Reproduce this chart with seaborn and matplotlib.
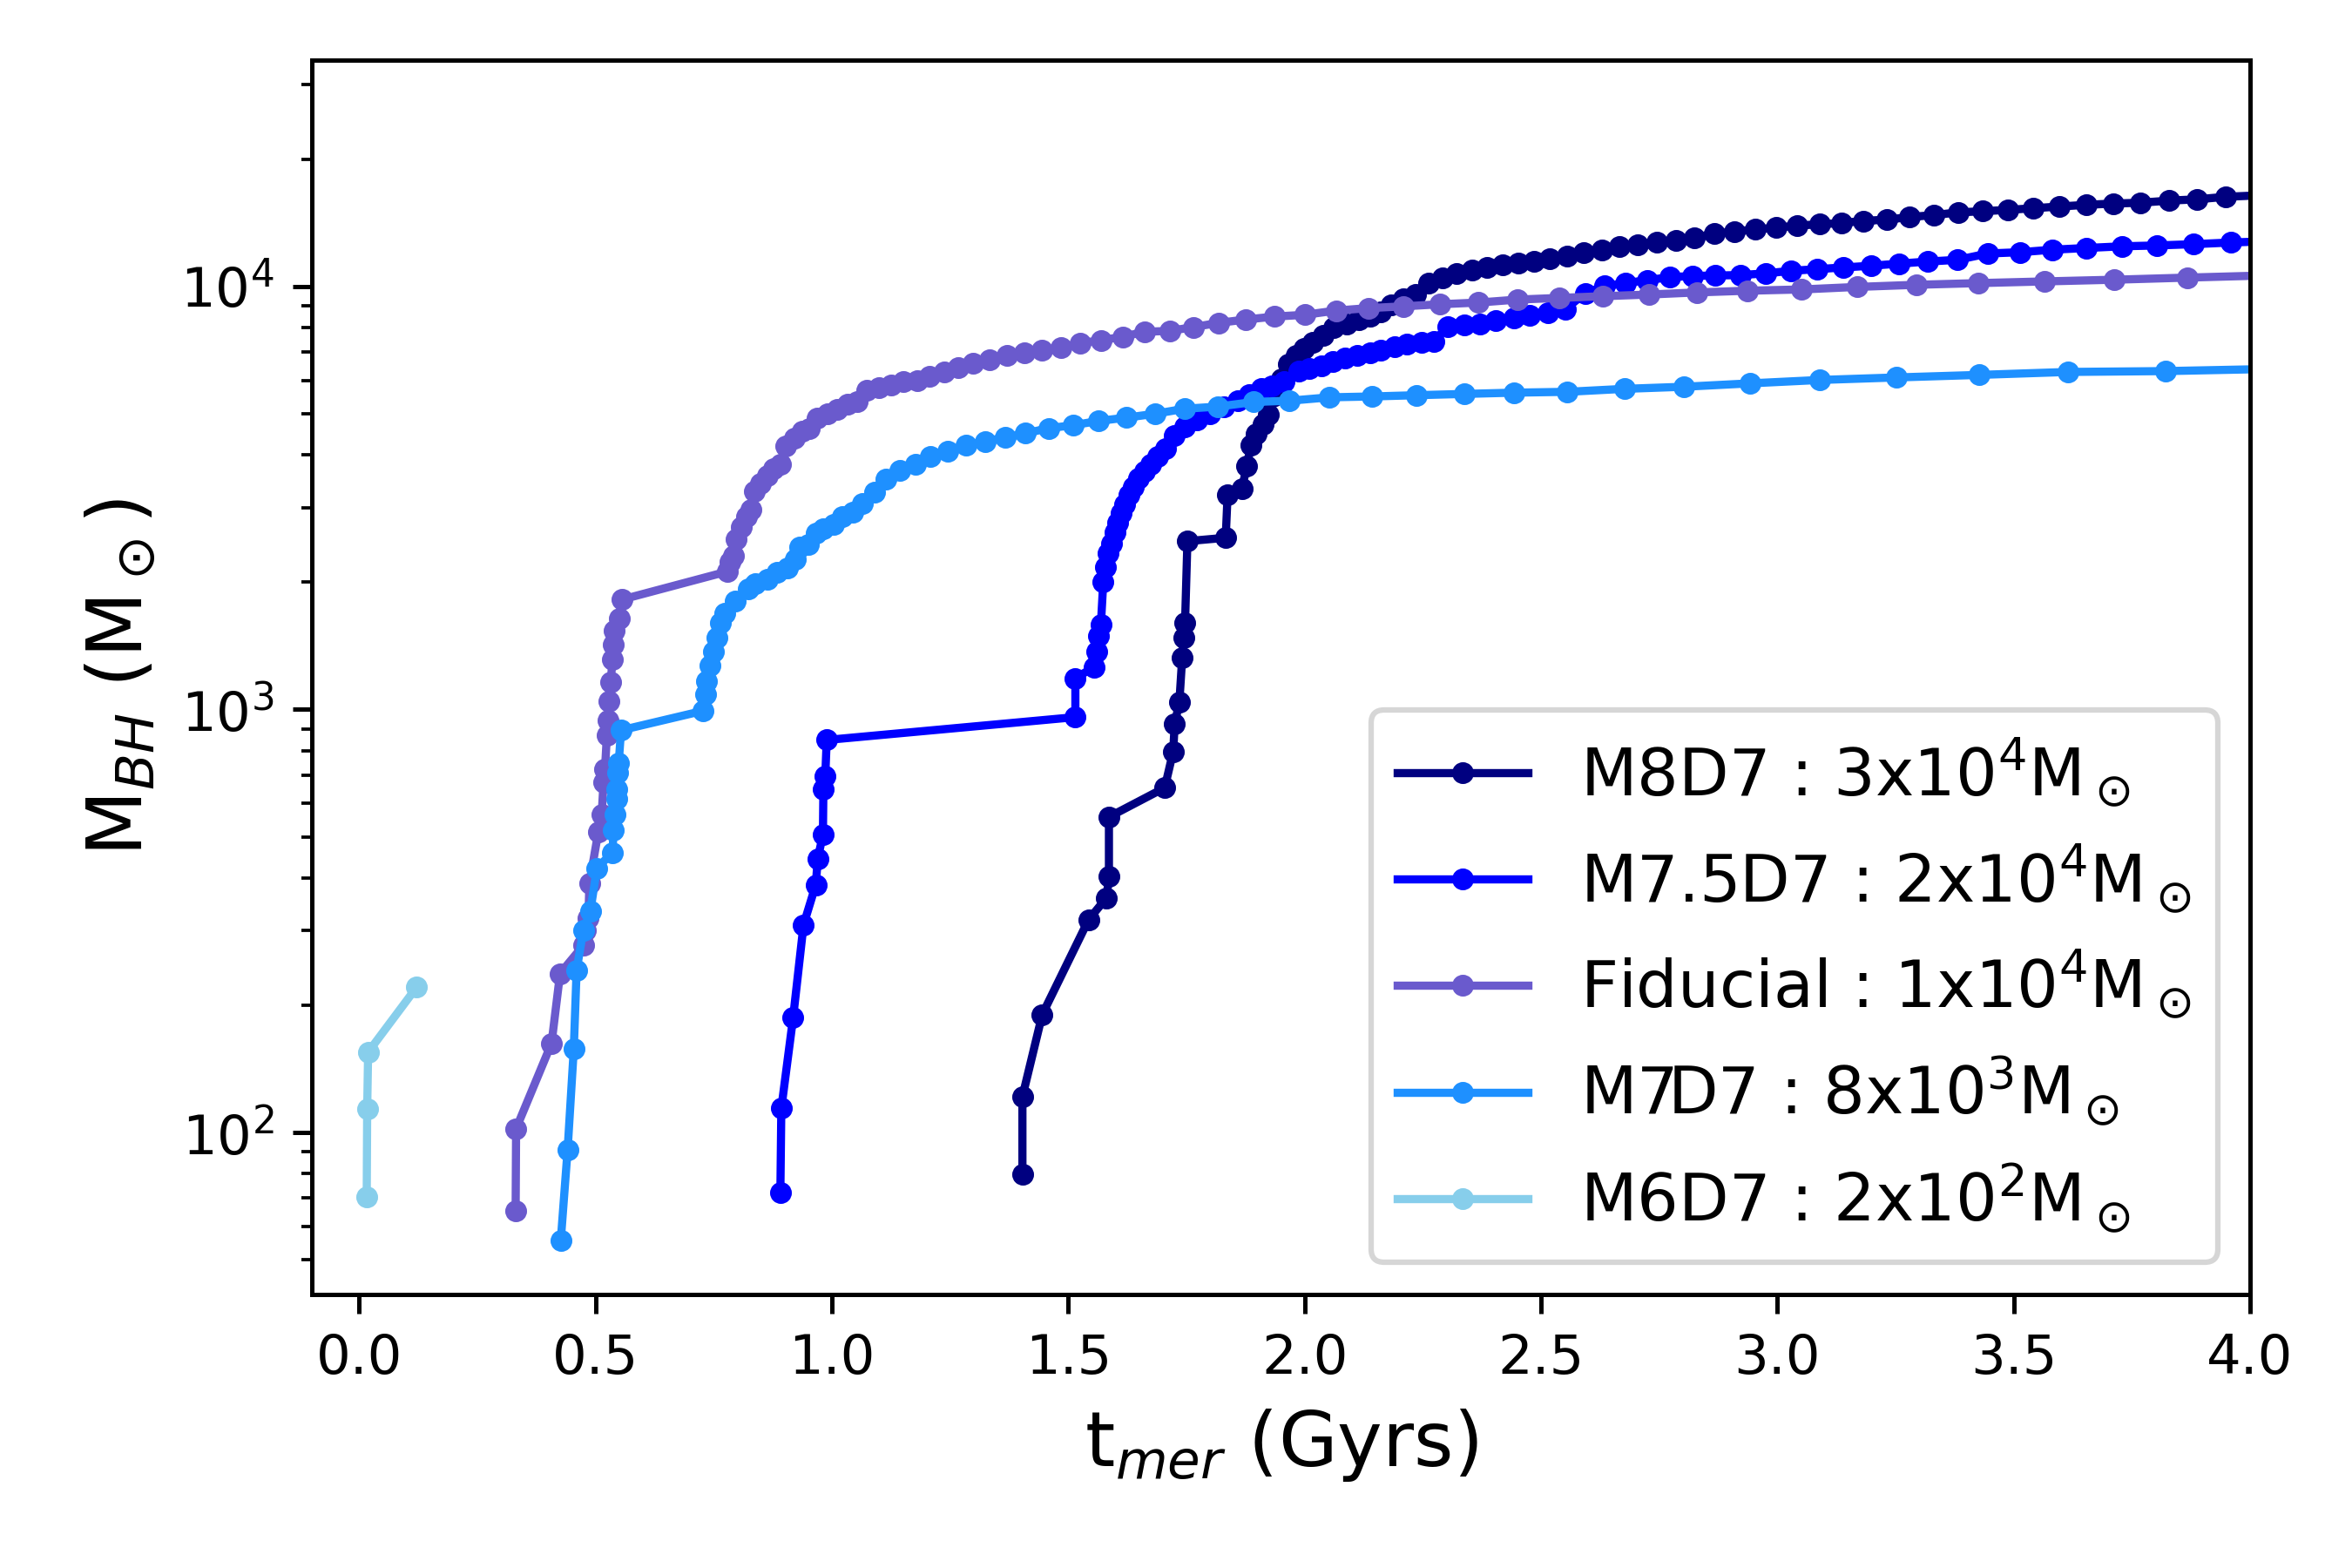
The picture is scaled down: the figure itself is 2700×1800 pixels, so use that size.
import numpy as np
import matplotlib
matplotlib.use("Agg")
import matplotlib.pyplot as plt
import seaborn as sns

# ==========================================
# Data (t in Gyr, log10 of M_BH in Msun)
# ==========================================
m8_t = [1.403, 1.403, 1.445, 1.543, 1.581, 1.586, 1.586, 1.704, 1.722, 1.725,
        1.735, 1.741, 1.744, 1.747, 1.752, 1.833, 1.837, 1.867, 1.878,
        1.886, 1.898, 1.912, 1.923, 1.933, 1.951,
        1.965, 1.983, 1.998, 2.017, 2.040, 2.062, 2.089, 2.115, 2.138, 2.160,
        2.183, 2.209, 2.235, 2.262, 2.292, 2.322, 2.354, 2.386, 2.418, 2.452,
        2.486, 2.519, 2.555, 2.591, 2.628, 2.666, 2.704, 2.745, 2.785, 2.824,
        2.866, 2.909, 2.953, 2.997, 3.041, 3.089, 3.135, 3.181, 3.231, 3.279,
        3.331, 3.382, 3.434, 3.487, 3.541, 3.596, 3.653, 3.710, 3.767, 3.828,
        3.887, 3.948, 4.030]
m8_logm = [1.901, 2.085, 2.279, 2.503, 2.555, 2.605, 2.746, 2.815, 2.901, 2.965,
           3.018, 3.123, 3.170, 3.205, 3.398, 3.406, 3.508, 3.521, 3.576,
           3.624, 3.651, 3.675, 3.697, 3.740, 3.782,
           3.816, 3.837, 3.854, 3.868, 3.885, 3.902, 3.912, 3.922, 3.929, 3.940,
           3.957, 3.971, 3.981, 4.008, 4.020, 4.031, 4.039, 4.046, 4.051, 4.056,
           4.060, 4.065, 4.071, 4.080, 4.087, 4.094, 4.098, 4.104, 4.109, 4.115,
           4.125, 4.130, 4.135, 4.139, 4.144, 4.147, 4.150, 4.155, 4.158, 4.164,
           4.169, 4.175, 4.178, 4.181, 4.185, 4.189, 4.193, 4.196, 4.198, 4.203,
           4.206, 4.212, 4.216]

m75_t = [0.891, 0.893, 0.918, 0.940, 0.966, 0.970, 0.981, 0.982, 0.986, 0.989,
         1.515, 1.515, 1.554, 1.560, 1.564, 1.569, 1.574, 1.578, 1.585, 1.591,
         1.598, 1.604, 1.612, 1.620, 1.629, 1.638, 1.649, 1.661, 1.675, 1.690,
         1.706,
         1.724, 1.746, 1.773, 1.799, 1.829, 1.859, 1.882, 1.908, 1.931, 1.957,
         1.987, 2.010, 2.036, 2.059, 2.085, 2.111, 2.138, 2.160, 2.190, 2.217,
         2.247, 2.273, 2.303, 2.337, 2.371, 2.405, 2.442, 2.476, 2.514, 2.551,
         2.593, 2.634, 2.679, 2.724, 2.773, 2.821,
         2.868, 2.922, 2.975, 3.029, 3.084, 3.139, 3.198, 3.257, 3.318, 3.381,
         3.445, 3.513, 3.582, 3.653, 3.729, 3.803, 3.880, 3.959, 4.040]
m75_logm = [1.858, 2.057, 2.272, 2.491, 2.586, 2.647, 2.704, 2.812, 2.843, 2.928,
            2.982, 3.074, 3.100, 3.136, 3.175, 3.201, 3.301, 3.337, 3.370, 3.393,
            3.419, 3.442, 3.464, 3.485, 3.508, 3.527, 3.547, 3.564, 3.580, 3.599,
            3.616,
            3.648, 3.668, 3.685, 3.699, 3.716, 3.730, 3.744, 3.758, 3.765, 3.775,
            3.799, 3.806, 3.813, 3.823, 3.830, 3.837, 3.843, 3.850, 3.857, 3.864,
            3.868, 3.871, 3.905, 3.910, 3.912, 3.919, 3.926, 3.931, 3.938, 3.946,
            3.984, 4.001, 4.008, 4.015, 4.022, 4.025,
            4.026, 4.027, 4.031, 4.037, 4.041, 4.045, 4.049, 4.054, 4.059, 4.063,
            4.078, 4.081, 4.087, 4.091, 4.095, 4.097, 4.100, 4.104, 4.107]

fid_t = [0.331, 0.332, 0.407, 0.425, 0.474, 0.478, 0.485, 0.487, 0.506, 0.513,
         0.517, 0.520, 0.524, 0.526, 0.529, 0.532, 0.536, 0.538, 0.540, 0.550,
         0.556, 0.778,
         0.785, 0.792, 0.798, 0.809, 0.820, 0.828, 0.836, 0.849, 0.863, 0.877,
         0.891, 0.902, 0.920, 0.938, 0.953, 0.969, 0.990, 1.011, 1.033, 1.054,
         1.074, 1.099, 1.125, 1.152, 1.181, 1.207, 1.238, 1.267, 1.299, 1.334,
         1.370, 1.407, 1.444, 1.485, 1.525, 1.569, 1.615, 1.661,
         1.715, 1.764, 1.818, 1.876, 1.937, 2.000, 2.066, 2.136, 2.208, 2.286,
         2.367, 2.450, 2.539, 2.630, 2.728, 2.830,
         2.936, 3.051, 3.169, 3.294, 3.425, 3.565, 3.712, 3.867, 4.030]
fid_logm = [1.815, 2.009, 2.211, 2.376, 2.442, 2.477, 2.506, 2.589, 2.711, 2.751,
            2.829, 2.858, 2.939, 2.974, 3.020, 3.064, 3.118, 3.153, 3.187, 3.216,
            3.260, 3.326,
            3.349, 3.363, 3.402, 3.432, 3.456, 3.473, 3.516, 3.535, 3.552, 3.569,
            3.580, 3.622, 3.641, 3.658, 3.665, 3.689, 3.699, 3.710, 3.722, 3.727,
            3.754, 3.761, 3.768, 3.775, 3.778, 3.788, 3.798, 3.809, 3.818, 3.826,
            3.837, 3.843, 3.850, 3.855, 3.866, 3.873, 3.881, 3.893,
            3.895, 3.904, 3.914, 3.922, 3.929, 3.933, 3.943, 3.949, 3.953, 3.958,
            3.962, 3.969, 3.973, 3.977, 3.981, 3.986,
            3.990, 3.993, 3.999, 4.004, 4.008, 4.012, 4.016, 4.021, 4.026]

m7_t = [0.4265, 0.441, 0.454, 0.460, 0.474, 0.489, 0.503, 0.536, 0.538, 0.542,
        0.544, 0.545, 0.547, 0.549, 0.554, 0.728, 0.732, 0.735, 0.742, 0.750,
        0.757, 0.764, 0.774, 0.796, 0.824, 0.838,
        0.864, 0.884, 0.906, 0.922, 0.931, 0.950, 0.966, 0.982, 1.004, 1.023,
        1.045, 1.064, 1.090, 1.115, 1.144, 1.176, 1.208, 1.245, 1.283, 1.325,
        1.366, 1.410, 1.458, 1.510, 1.563, 1.623, 1.683,
        1.746, 1.816, 1.892, 1.968, 2.053, 2.142, 2.237, 2.337, 2.442, 2.555,
        2.676, 2.803,
        2.942, 3.089, 3.252, 3.427, 3.615, 3.821, 4.040]
m7_logm = [1.745, 1.960, 2.197, 2.384, 2.477, 2.523, 2.625, 2.662, 2.714, 2.752,
           2.789, 2.812, 2.850, 2.873, 2.951, 2.997, 3.035, 3.066, 3.103, 3.136,
           3.170, 3.205, 3.228, 3.257, 3.286, 3.297,
           3.308, 3.325, 3.335, 3.356, 3.384, 3.390, 3.418, 3.428, 3.438, 3.456,
           3.466, 3.487, 3.514, 3.545, 3.565, 3.579, 3.598, 3.610, 3.624, 3.634,
           3.643, 3.653, 3.665, 3.672, 3.682, 3.690, 3.699,
           3.711, 3.716, 3.727, 3.730, 3.738, 3.740, 3.743, 3.746, 3.749, 3.751,
           3.758, 3.763,
           3.771, 3.779, 3.785, 3.791, 3.798, 3.800, 3.805]

m6_t = [0.016, 0.017, 0.019, 0.122]
m6_logm = [1.847, 2.055, 2.190, 2.344]

labels = [r"M8D7 : 3x10$^4$M$_\odot$",
          r"M7.5D7 : 2x10$^4$M$_\odot$",
          r"Fiducial : 1x10$^4$M$_\odot$",
          r"M7D7 : 8x10$^3$M$_\odot$",
          r"M6D7 : 2x10$^2$M$_\odot$"]
colors = ["navy", "blue", "slateblue", "dodgerblue", "skyblue"]

runs = [(m8_t, m8_logm), (m75_t, m75_logm), (fid_t, fid_logm),
        (m7_t, m7_logm), (m6_t, m6_logm)]

# ==========================================
# Plot
# ==========================================
fig, ax = plt.subplots(figsize=(6, 4), dpi=450)
fig.subplots_adjust(left=0.1326, right=0.9567, top=0.9617, bottom=0.1744)

for (t, logm), lab, col in zip(runs, labels, colors):
    sns.lineplot(x=np.array(t), y=np.power(10.0, logm), ax=ax, color=col,
                 marker="o", markersize=3, markeredgecolor=col,
                 markeredgewidth=1, linewidth=1.5, estimator=None, sort=False,
                 label=lab)

ax.set_yscale("log")
ax.set_xlim(-0.1, 4.0)
ax.set_ylim(41.4, 34300)
ax.set_xticks(np.arange(0, 4.01, 0.5))
ax.set_xlabel(r"t$_{mer}$ (Gyrs)", fontsize=14)
ax.set_ylabel(r"M$_{BH}$ (M$_\odot$)", fontsize=14)
ax.legend(loc="lower right", fontsize=12)

fig.savefig("out.png", dpi=450)
